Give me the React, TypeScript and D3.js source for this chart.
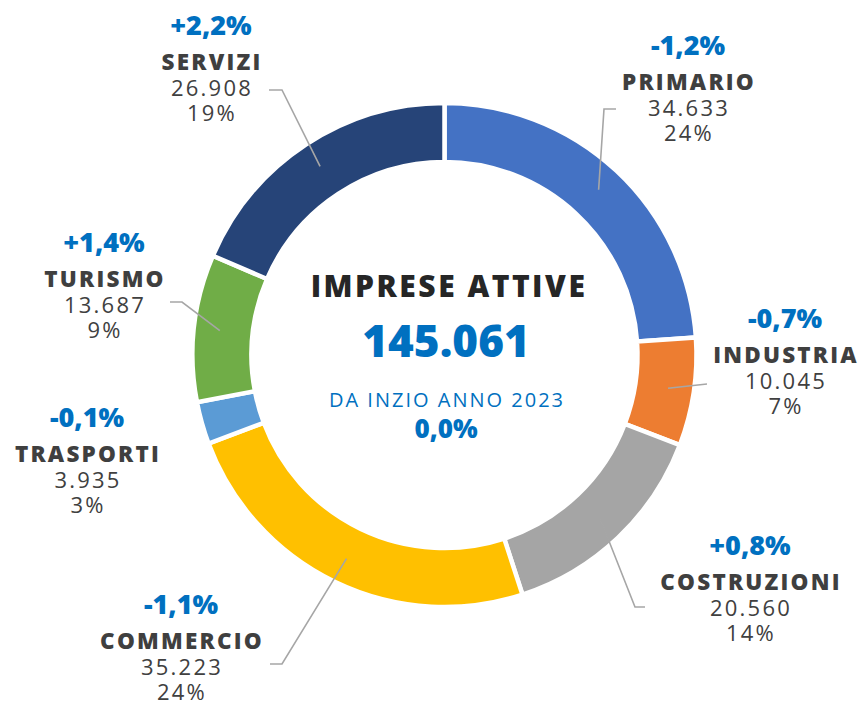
import React from 'react';
import * as d3 from 'd3';

// dati
const settori = ['PRIMARIO', 'INDUSTRIA', 'COSTRUZIONI', 'COMMERCIO', 'TRASPORTI', 'TURISMO', 'SERVIZI'];
const imprese = [34633, 10045, 20560, 35223, 3935, 13687, 26908];
const variazioni = [-1.2, -0.7, 0.8, -1.1, -0.1, 1.4, 2.2];
const colori = ['#4472C4', '#ED7D31', '#A5A5A5', '#FFC000', '#5B9BD5', '#70AD47', '#264478'];
const totaleImprese = 145061;
const variazioneAnno = 0.0;

// posizione delle etichette (centro testo, baseline della variazione) e gomito della linea
const etichette = [
  { x: 688, y: 55, elbow: [604, 109], end: [616, 109] },
  { x: 785, y: 328, elbow: [707, 384], end: [707, 384] },
  { x: 750, y: 555, elbow: [635, 607], end: [645, 607] },
  { x: 181, y: 614, elbow: [282, 664], end: [270, 664] },
  { x: 87, y: 427, elbow: null, end: null },
  { x: 104, y: 252, elbow: [182, 302], end: [170, 302] },
  { x: 211, y: 35, elbow: [282, 90], end: [269, 90] },
];

const it = d3.formatLocale({ decimal: ',', thousands: '.', grouping: [3], currency: ['€', ''], minus: '-' });
const fmtNum = it.format(',d');
const fmtVar = it.format('+.1f');
const fmtPct = it.format('.0%');

const W = 858, H = 701;
const cx = 444.5, cy = 355;
const R = 252, r = 193;

const font = "'Open Sans', sans-serif";

export default function App() {
  const data = settori.map((s, i) => ({ nome: s, valore: imprese[i], i }));
  const pie = d3.pie<any>().sort(null).value(d => d.valore);
  const arcs = pie(data);
  const arc = d3.arc<any>().innerRadius(r).outerRadius(R);
  const leaderArc = d3.arc<any>().innerRadius(226).outerRadius(226);

  return (
    <svg width={W} height={H} style={{ position: 'absolute', left: 0, top: 0, background: '#fff' }}
      fontFamily={font}>
      <g transform={`translate(${cx},${cy})`}>
        {arcs.map((a, i) => (
          <path key={i} d={arc(a) as string} fill={colori[i]} stroke="#fff" strokeWidth={4.5} />
        ))}
      </g>
      {arcs.map((a, i) => {
        const l = etichette[i];
        if (!l.elbow) return null;
        const c = leaderArc.centroid(a);
        const p0 = [c[0] + cx, c[1] + cy];
        return (
          <polyline key={'l' + i} fill="none" stroke="#A6A6A6" strokeWidth={1.6}
            points={`${p0[0]},${p0[1]} ${l.elbow[0]},${l.elbow[1]} ${l.end![0]},${l.end![1]}`} />
        );
      })}
      {arcs.map((a, i) => {
        const l = etichette[i];
        const v = variazioni[i];
        return (
          <g key={'t' + i} textAnchor="middle">
            <text x={l.x} y={l.y} fill="#0070C0" fontSize={27} fontWeight={800}>
              {fmtVar(v) + '%'}
            </text>
            <text x={l.x + 1} y={l.y + 35} fill="#3F3F3F" fontSize={22.5} fontWeight={800} letterSpacing={2.2}>
              {a.data.nome}
            </text>
            <text x={l.x + 1} y={l.y + 61} fill="#404040" fontSize={22} fontWeight={400} letterSpacing={2.2}>
              {fmtNum(a.data.valore)}
            </text>
            <text x={l.x + 1} y={l.y + 86} fill="#404040" fontSize={22} fontWeight={400} letterSpacing={2.2}>
              {fmtPct(a.data.valore / totaleImprese)}
            </text>
          </g>
        );
      })}
      <g textAnchor="middle">
        <text x={449} y={297} fill="#262626" fontSize={30} fontWeight={800} letterSpacing={2.5}>IMPRESE ATTIVE</text>
        <text x={446} y={357} fill="#0070C0" fontSize={44} fontWeight={800}>{fmtNum(totaleImprese)}</text>
        <text x={447} y={407} fill="#0070C0" fontSize={20} fontWeight={400} letterSpacing={2}>DA INZIO ANNO 2023</text>
        <text x={446} y={438} fill="#0070C0" fontSize={26} fontWeight={800}>{it.format('.1f')(variazioneAnno)}%</text>
      </g>
    </svg>
  );
}
